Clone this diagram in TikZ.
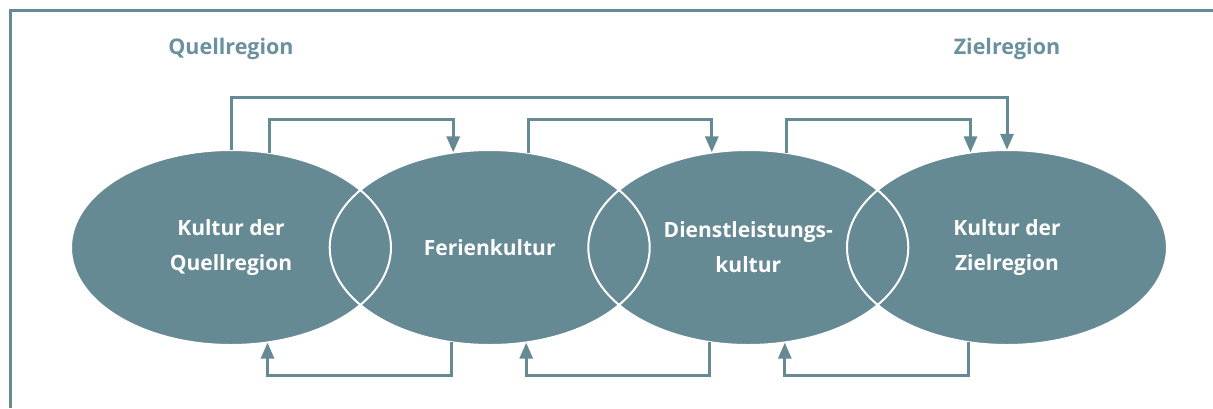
\documentclass[tikz,border=0pt]{standalone}
\usepackage{fontspec}
\setmainfont{Open Sans}
\usetikzlibrary{shapes.geometric,arrows.meta}
\definecolor{tealfill}{HTML}{668A94}
\definecolor{teallabel}{HTML}{6A919D}
\tikzset{
  ell/.style={ellipse, fill=tealfill, minimum width=320pt, minimum height=195pt, inner sep=0pt,
    text=white, align=center, font=\bfseries\fontsize{21}{35}\selectfont},
  toplabel/.style={text=teallabel, font=\bfseries\fontsize{21.5}{25}\selectfont},
  conn/.style={draw=tealfill, line width=3pt},
  arr/.style={conn, -{Triangle[width=13pt,length=16pt]}},
  lens/.style={draw=white, line width=2pt}
}
\begin{document}
\begin{tikzpicture}[x=1pt,y=-1pt]
\useasboundingbox (0,0) rectangle (1213,408);
\fill[white] (0,0) rectangle (1213,408);
% frame
\draw[tealfill, line width=3pt] (1213,10) -- (10,10) -- (10,408);
% labels
\node[toplabel] (lq) at (231,49) {Quellregion};
\node[toplabel] (lz) at (1007,49) {Zielregion};
% ellipses
\node[ell] (e1) at (231,247.5) {Kultur der\\Quellregion};
\node[ell] (e2) at (489.7,247.5) {Ferienkultur};
\node[ell] (e3) at (748.3,247.5) {Dienstleistungs-\\kultur};
\node[ell] (e4) at (1007,247.5) {Kultur der\\Zielregion};
% white outlines in overlaps
\foreach \e in {e1,e2,e3,e4}{
  \draw[lens] (\e.center) ellipse [x radius=160, y radius=97.5];
}
% level coordinates
\coordinate (ytop) at (0,97);
\coordinate (yin) at (0,119);
\coordinate (ybot) at (0,375);
% top connectors
\draw[arr] (e1.north) -- (e1.north |- ytop) -- (e4.north |- ytop) -- (e4.north);
\draw[arr] (e1.68.7) -- (e1.68.7 |- yin) -- (e2.111.3 |- yin) -- (e2.111.3);
\draw[arr] (e2.68.7) -- (e2.68.7 |- yin) -- (e3.111.3 |- yin) -- (e3.111.3);
\draw[arr] (e3.68.7) -- (e3.68.7 |- yin) -- (e4.111.3 |- yin) -- (e4.111.3);
% bottom connectors
\draw[arr] (e2.248.7) -- (e2.248.7 |- ybot) -- (e1.291.3 |- ybot) -- (e1.291.3);
\draw[arr] (e3.248.7) -- (e3.248.7 |- ybot) -- (e2.291.3 |- ybot) -- (e2.291.3);
\draw[arr] (e4.248.7) -- (e4.248.7 |- ybot) -- (e3.291.3 |- ybot) -- (e3.291.3);
\end{tikzpicture}
\end{document}
